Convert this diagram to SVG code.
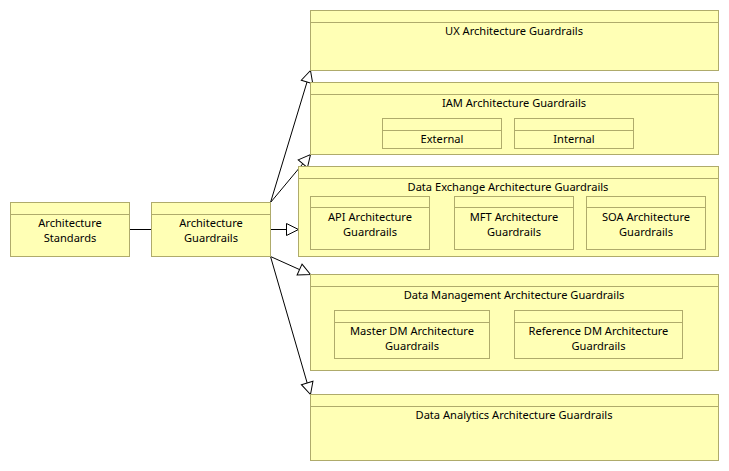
<svg xmlns="http://www.w3.org/2000/svg" width="729" height="471" viewBox="0 0 729 471">
<style>
.box{fill:#FFFFB5;stroke:#AFAB6B;stroke-width:1}
.hd{stroke:#AFAB6B;stroke-width:1}
text{font-family:"Noto Sans","Open Sans",sans-serif;font-size:11.1px;fill:#000;text-anchor:middle}
.conn{stroke:#000;stroke-width:1;fill:none}
</style>
<defs>
<marker id="tri" markerUnits="userSpaceOnUse" markerWidth="14" markerHeight="14" viewBox="0 0 14 14" refX="13" refY="7" orient="auto">
<path d="M1,1 L13,7 L1,13 z" fill="#fff" stroke="#000" stroke-width="1"/>
</marker>
</defs>
<rect width="729" height="471" fill="#fff"/>
<g id="connectors">
<line class="conn" x1="129.5" y1="229.5" x2="151.5" y2="229.5"/>
<line class="conn" x1="270.5" y1="229.5" x2="298.5" y2="229.5" marker-end="url(#tri)"/>
<line class="conn" x1="270.5" y1="202.5" x2="310.5" y2="70.5" marker-end="url(#tri)"/>
<line class="conn" x1="270.5" y1="202.5" x2="310.5" y2="154.5" marker-end="url(#tri)"/>
<line class="conn" x1="270.5" y1="256.5" x2="310.5" y2="274.5" marker-end="url(#tri)"/>
<line class="conn" x1="270.5" y1="256.5" x2="310.5" y2="394.5" marker-end="url(#tri)"/>
</g>
<g id="arch-standards">
<rect class="box" x="10.5" y="202.5" width="119" height="54"/>
<line class="hd" x1="10.5" y1="214.5" x2="129.5" y2="214.5"/>
<text x="70" y="227">Architecture</text>
<text x="70" y="242">Standards</text>
</g>
<g id="arch-guardrails">
<rect class="box" x="151.5" y="202.5" width="119" height="54"/>
<line class="hd" x1="151.5" y1="214.5" x2="270.5" y2="214.5"/>
<text x="211" y="227">Architecture</text>
<text x="211" y="242">Guardrails</text>
</g>
<g id="ux">
<rect class="box" x="310.5" y="10.5" width="408" height="60"/>
<line class="hd" x1="310.5" y1="22.5" x2="718.5" y2="22.5"/>
<text x="514" y="35">UX Architecture Guardrails</text>
</g>
<g id="iam">
<rect class="box" x="310.5" y="82.5" width="408" height="72"/>
<line class="hd" x1="310.5" y1="94.5" x2="718.5" y2="94.5"/>
<text x="514" y="107">IAM Architecture Guardrails</text>
<g id="iam-external">
<rect class="box" x="382.5" y="118.5" width="119" height="30"/>
<line class="hd" x1="382.5" y1="130.5" x2="501.5" y2="130.5"/>
<text x="442" y="143">External</text>
</g>
<g id="iam-internal">
<rect class="box" x="514.5" y="118.5" width="119" height="30"/>
<line class="hd" x1="514.5" y1="130.5" x2="633.5" y2="130.5"/>
<text x="574" y="143">Internal</text>
</g>
</g>
<g id="data-exchange">
<rect class="box" x="298.5" y="166.5" width="420" height="90"/>
<line class="hd" x1="298.5" y1="178.5" x2="718.5" y2="178.5"/>
<text x="508" y="191">Data Exchange Architecture Guardrails</text>
<g id="api">
<rect class="box" x="310.5" y="196.5" width="119" height="53"/>
<line class="hd" x1="310.5" y1="207.5" x2="429.5" y2="207.5"/>
<text x="370" y="221">API Architecture</text>
<text x="370" y="236">Guardrails</text>
</g>
<g id="mft">
<rect class="box" x="454.5" y="196.5" width="119" height="53"/>
<line class="hd" x1="454.5" y1="207.5" x2="573.5" y2="207.5"/>
<text x="514" y="221">MFT Architecture</text>
<text x="514" y="236">Guardrails</text>
</g>
<g id="soa">
<rect class="box" x="586.5" y="196.5" width="119" height="53"/>
<line class="hd" x1="586.5" y1="207.5" x2="705.5" y2="207.5"/>
<text x="646" y="221">SOA Architecture</text>
<text x="646" y="236">Guardrails</text>
</g>
</g>
<g id="data-management">
<rect class="box" x="310.5" y="274.5" width="408" height="96"/>
<line class="hd" x1="310.5" y1="286.5" x2="718.5" y2="286.5"/>
<text x="514" y="299">Data Management Architecture Guardrails</text>
<g id="master-dm">
<rect class="box" x="334.5" y="310.5" width="155" height="48"/>
<line class="hd" x1="334.5" y1="322.5" x2="489.5" y2="322.5"/>
<text x="412" y="335">Master DM Architecture</text>
<text x="412" y="350">Guardrails</text>
</g>
<g id="reference-dm">
<rect class="box" x="514.5" y="310.5" width="168" height="48"/>
<line class="hd" x1="514.5" y1="322.5" x2="682.5" y2="322.5"/>
<text x="598.5" y="335">Reference DM Architecture</text>
<text x="598.5" y="350">Guardrails</text>
</g>
</g>
<g id="data-analytics">
<rect class="box" x="310.5" y="394.5" width="408" height="66"/>
<line class="hd" x1="310.5" y1="406.5" x2="718.5" y2="406.5"/>
<text x="514" y="419">Data Analytics Architecture Guardrails</text>
</g>
</svg>
